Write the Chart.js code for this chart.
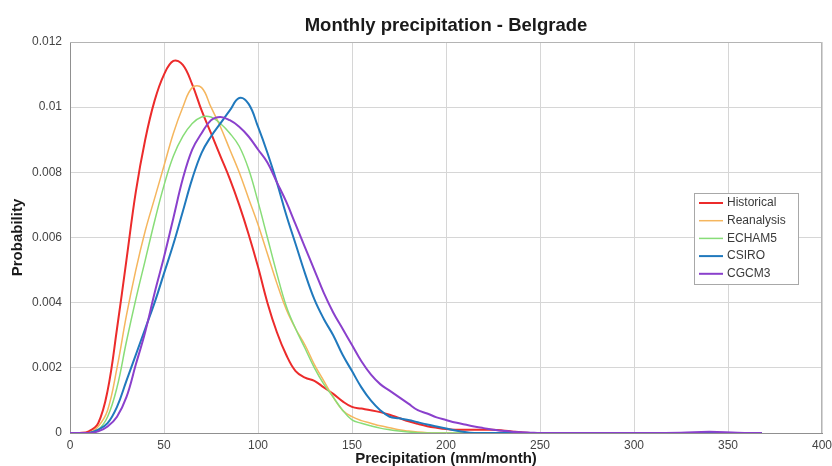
<!DOCTYPE html>
<html>
<head>
<meta charset="utf-8">
<title>Monthly precipitation - Belgrade</title>
<script src="https://cdn.jsdelivr.net/npm/chart.js@4.4.0/dist/chart.umd.min.js"></script>
<style>
  html, body { margin: 0; padding: 0; background: #fff; }
  #wrap { width: 832px; height: 466px; }
</style>
</head>
<body>
<div id="wrap"><canvas id="pdfChart" width="832" height="466"></canvas></div>
<script>
// Precipitation grid (mm/month)
const precip = [0, 5, 10, 15, 20, 25, 30, 35, 40, 45, 50, 55, 60, 65, 70, 75, 80, 85, 90, 95,
    100, 105, 110, 115, 120, 125, 130, 135, 140, 145, 150, 155, 160, 165, 170, 175, 180, 185, 190, 195,
    200, 205, 210, 215, 220, 225, 230, 235, 240, 245, 250, 275, 300, 325, 340, 355, 368];

const seriesNames = ['Historical', 'Reanalysis', 'ECHAM5', 'CSIRO', 'CGCM3'];

const historical = [0, 0, 0.00005, 0.0003, 0.0013, 0.0032, 0.0053, 0.0074, 0.0090, 0.0102,
    0.0110, 0.01142, 0.0113, 0.0107, 0.0099, 0.0092, 0.0085, 0.0078, 0.0070, 0.0061,
    0.0051, 0.0040, 0.0031, 0.0024, 0.0019, 0.0017, 0.0016, 0.0014, 0.0012, 0.00097,
    0.0008, 0.00075, 0.0007, 0.00064, 0.00056, 0.00046, 0.00036, 0.00028, 0.00021, 0.00016,
    0.00012, 0.0001, 0.0001, 0.0001, 0.0001, 0.0001, 0.00008, 0.00005, 0.00002, 0, 0,
    0, 0, 0, 0, 0, 0];

const reanalysis = [0, 0, 0, 0.0002, 0.0007, 0.0020, 0.0036, 0.0050, 0.0062, 0.0072,
    0.0082, 0.0092, 0.0100, 0.0106, 0.0106, 0.0100, 0.0094, 0.0087, 0.0080, 0.0072,
    0.0064, 0.0055, 0.0046, 0.0038, 0.0032, 0.0027, 0.0021, 0.0016, 0.0011, 0.0007,
    0.0005, 0.00038, 0.0003, 0.00022, 0.00016, 0.0001, 0.00006, 0.00003, 0.00001, 0,
    0, 0, 0, 0, 0, 0, 0, 0, 0, 0, 0,
    0, 0, 0, 0, 0, 0];

const echam5 = [0, 0, 0, 0.0001, 0.0005, 0.0014, 0.0028, 0.0041, 0.0053, 0.0065,
    0.0076, 0.0085, 0.0091, 0.0095, 0.0097, 0.0097, 0.0095, 0.0092, 0.0088, 0.0081,
    0.0071, 0.0060, 0.0049, 0.0039, 0.0032, 0.0026, 0.0020, 0.0015, 0.0011, 0.0007,
    0.0004, 0.0003, 0.00022, 0.00015, 0.0001, 0.00006, 0.00003, 0.00001, 0, 0,
    0, 0, 0, 0, 0, 0, 0, 0, 0, 0, 0,
    0, 0, 0, 0, 0, 0];

const csiro = [0, 0, 0, 0.0001, 0.0003, 0.0008, 0.0016, 0.0024, 0.0032, 0.0040,
    0.0049, 0.0058, 0.0068, 0.0078, 0.0086, 0.0091, 0.0095, 0.0099, 0.01028, 0.0101,
    0.0094, 0.0086, 0.0077, 0.0067, 0.0058, 0.0049, 0.0041, 0.0035, 0.0030, 0.0024,
    0.0019, 0.0014, 0.0010, 0.0007, 0.0005, 0.00045, 0.0004, 0.00033, 0.00026, 0.0002,
    0.00014, 0.00008, 0.00003, 0, 0, 0, 0, 0, 0, 0, 0,
    0, 0, 0, 0, 0, 0];

const cgcm3 = [0, 0, 0, 0.00005, 0.0002, 0.0005, 0.0011, 0.0021, 0.0031, 0.0043,
    0.0054, 0.0066, 0.0078, 0.0087, 0.0092, 0.0096, 0.0097, 0.0096, 0.0094, 0.0091,
    0.0087, 0.0083, 0.0077, 0.0071, 0.0064, 0.0057, 0.0050, 0.0043, 0.0037, 0.0032,
    0.0027, 0.0022, 0.0018, 0.0015, 0.0013, 0.0011, 0.0009, 0.0007, 0.0006, 0.00048,
    0.0004, 0.00032, 0.00026, 0.0002, 0.00015, 0.0001, 0.00007, 0.00004, 0.00002, 0.00001, 0,
    0, 0, 0.00001, 0.00004, 0.00001, 0];

const seriesValues = [historical, reanalysis, echam5, csiro, cgcm3];
const seriesColors = ['#ec2b2b', '#f5b65e', '#88dd78', '#2079bd', '#8a40cc'];
const seriesWidths = [2, 1.5, 1.5, 2, 2];

// Leyenda dibujada dentro del área del gráfico (como en MATLAB)
const boxLegend = {
    id: 'boxLegend',
    afterDraw(chart) {
        const { ctx, chartArea } = chart;
        const x0 = chartArea.right - 128;
        const y0 = chartArea.top + 151;
        const w = 104, h = 91;
        ctx.save();
        ctx.fillStyle = '#ffffff';
        ctx.fillRect(x0, y0, w, h);
        ctx.strokeStyle = '#a8a8a8';
        ctx.lineWidth = 1;
        ctx.strokeRect(x0 + 0.5, y0 + 0.5, w, h);
        ctx.font = '12px "Liberation Sans", Arial, sans-serif';
        ctx.textBaseline = 'middle';
        chart.data.datasets.forEach((ds, i) => {
            const y = y0 + 10 + i * 17.7;
            ctx.strokeStyle = ds.borderColor;
            ctx.lineWidth = ds.borderWidth;
            ctx.beginPath();
            ctx.moveTo(x0 + 5, y);
            ctx.lineTo(x0 + 29, y);
            ctx.stroke();
            ctx.fillStyle = '#3a3a3a';
            ctx.fillText(ds.label, x0 + 33, y);
        });
        ctx.restore();
    }
};

// Marco superior y derecho de los ejes
const axesBox = {
    id: 'axesBox',
    beforeDatasetsDraw(chart) {
        const { ctx, chartArea } = chart;
        ctx.save();
        ctx.strokeStyle = '#b4b4b4';
        ctx.lineWidth = 1;
        ctx.beginPath();
        ctx.moveTo(chartArea.left, chartArea.top + 0.5);
        ctx.lineTo(chartArea.right - 0.5, chartArea.top + 0.5);
        ctx.lineTo(chartArea.right - 0.5, chartArea.bottom);
        ctx.stroke();
        ctx.restore();
    }
};

const ctx = document.getElementById('pdfChart').getContext('2d');

new Chart(ctx, {
    type: 'line',
    data: {
        datasets: seriesNames.map((name, i) => ({
            label: name,
            data: precip.map((x, j) => ({ x: x, y: seriesValues[i][j] })),
            borderColor: seriesColors[i],
            backgroundColor: seriesColors[i],
            borderWidth: seriesWidths[i],
            pointRadius: 0,
            tension: 0.4,
            fill: false,
            order: seriesNames.length - i
        }))
    },
    options: {
        responsive: false,
        animation: false,
        devicePixelRatio: 1,
        layout: {
            padding: { left: 0, right: 10, top: 0, bottom: 0 }
        },
        scales: {
            x: {
                type: 'linear',
                min: 0,
                max: 400,
                ticks: {
                    stepSize: 50,
                    padding: 5,
                    color: '#444',
                    font: { family: '"Liberation Sans", Arial, sans-serif', size: 12 },
                    maxRotation: 0
                },
                grid: { color: '#d6d6d6', drawTicks: false },
                border: { color: '#909090' },
                title: {
                    display: true,
                    text: 'Precipitation (mm/month)',
                    color: '#1a1a1a',
                    font: { family: '"Liberation Sans", Arial, sans-serif', size: 15, weight: 'bold', lineHeight: 1 },
                    padding: { top: 0, bottom: 0 }
                },
                afterFit(scale) {
                    scale.height = 33;
                    scale.paddingLeft = 0;
                    scale.paddingRight = 0;
                }
            },
            y: {
                min: 0,
                max: 0.012,
                ticks: {
                    stepSize: 0.002,
                    padding: 8,
                    color: '#444',
                    font: { family: '"Liberation Sans", Arial, sans-serif', size: 12 },
                    callback: v => String(+v.toFixed(4))
                },
                grid: { color: '#d6d6d6', drawTicks: false },
                border: { color: '#909090' },
                title: {
                    display: true,
                    text: 'Probability',
                    color: '#1a1a1a',
                    font: { family: '"Liberation Sans", Arial, sans-serif', size: 15, weight: 'bold', lineHeight: 1.2 },
                    padding: { top: 9, bottom: 0 }
                },
                afterFit(scale) {
                    scale.width = 70;
                    scale.paddingTop = 0;
                    scale.paddingBottom = 0;
                }
            }
        },
        plugins: {
            legend: { display: false },
            tooltip: { enabled: false },
            title: {
                display: true,
                text: 'Monthly precipitation - Belgrade',
                fullSize: false,
                color: '#1a1a1a',
                font: { family: '"Liberation Sans", Arial, sans-serif', size: 18.5, weight: 'bold', lineHeight: 1.2 },
                padding: { top: 15, bottom: 4.8 }
            }
        }
    },
    plugins: [axesBox, boxLegend]
});
</script>
</body>
</html>
